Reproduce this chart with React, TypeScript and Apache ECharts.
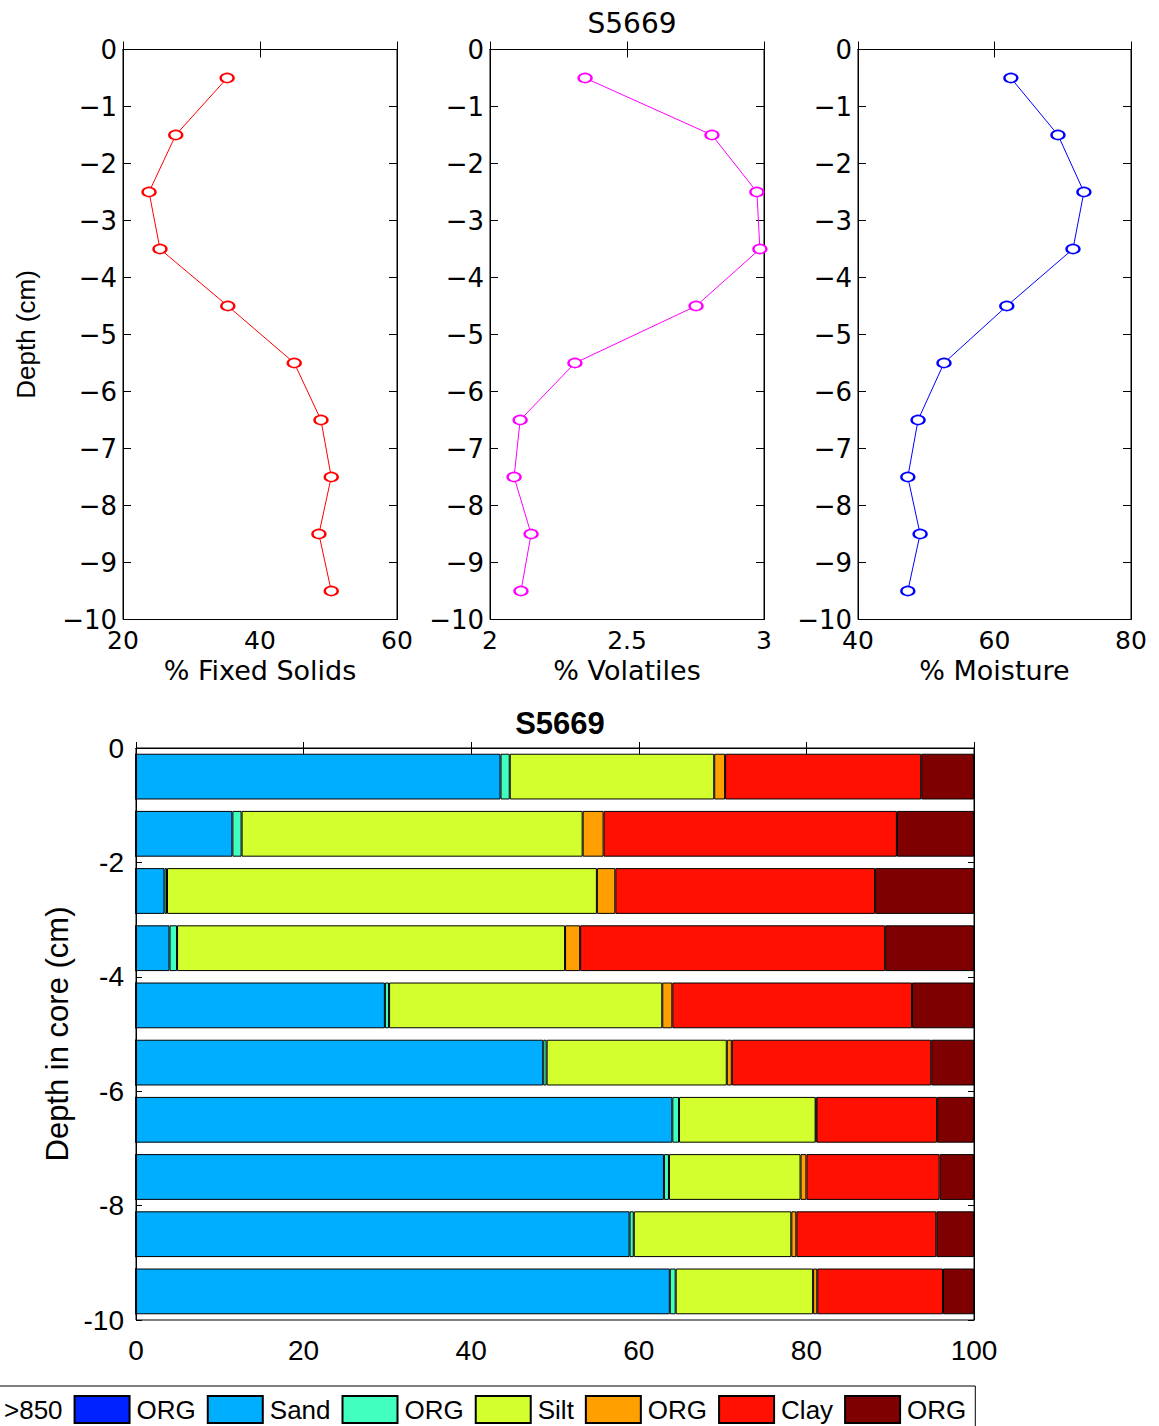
import React, { useEffect, useRef } from "react";
import * as echarts from "echarts";

const depthCats = ["-0.5", "-1.5", "-2.5", "-3.5", "-4.5", "-5.5", "-6.5", "-7.5", "-8.5", "-9.5"];
const depths = [-0.5, -1.5, -2.5, -3.5, -4.5, -5.5, -6.5, -7.5, -8.5, -9.5];
const fixedSolids = [35.2, 27.7, 23.8, 25.4, 35.3, 45.0, 48.9, 50.4, 48.6, 50.4];
const volatiles = [2.347, 2.81, 2.974, 2.985, 2.752, 2.31, 2.11, 2.088, 2.15, 2.113];
const moisture = [62.4, 69.3, 73.1, 71.5, 61.8, 52.6, 48.8, 47.3, 49.1, 47.3];

const gt850 = [0, 0, 0, 0, 0, 0, 0, 0, 0, 0];
const org1 = [0, 0, 0, 0, 0, 0, 0, 0, 0, 0];
const sand = [43.5, 11.5, 3.4, 4.0, 29.7, 48.6, 64.0, 63.0, 58.9, 63.7];
const org2 = [1.1, 1.1, 0.3, 0.9, 0.5, 0.4, 0.8, 0.6, 0.5, 0.7];
const silt = [24.4, 40.7, 51.3, 46.3, 32.6, 21.5, 16.3, 15.7, 18.8, 16.4];
const org3 = [1.3, 2.5, 2.2, 1.8, 1.2, 0.6, 0.1, 0.7, 0.6, 0.5];
const clay = [23.4, 35.0, 31.0, 36.4, 28.6, 23.8, 14.4, 15.9, 16.7, 15.0];
const org4 = [6.3, 9.2, 11.8, 10.6, 7.4, 5.1, 4.4, 4.1, 4.5, 3.7];

const barNames = [">850", "ORG#1", "Sand", "ORG#2", "Silt", "ORG#3", "Clay", "ORG#4"];
const barData = [gt850, org1, sand, org2, silt, org3, clay, org4];
const barColors = ["#00008f", "#0022ff", "#00aeff", "#40ffbf", "#d2ff2d", "#ffa000", "#ff1000", "#7f0000"];

const topFont = "DejaVu Sans";
const botFont = "Liberation Sans";

const minus = (v: number) => String(v).replace("-", "\u2212");

export default function App() {
  const ref = useRef<HTMLDivElement>(null);
  useEffect(() => {
    const chart = echarts.init(ref.current!, null, { renderer: "svg" });
    const tickTop = { inside: true, length: 8, lineStyle: { color: "#000", width: 1 } };
    const lineBlack = { show: true, lineStyle: { color: "#000", width: 1 } };
    const topGrids = [
      { left: 123, top: 49.5, width: 274, height: 570 },
      { left: 490, top: 49.5, width: 274, height: 570 },
      { left: 858, top: 49.5, width: 273, height: 570 },
    ];
    const ranges = [
      { min: 20, max: 60, interval: 20, name: "% Fixed Solids" },
      { min: 2, max: 3, interval: 0.5, name: "% Volatiles" },
      { min: 40, max: 80, interval: 20, name: "% Moisture" },
    ];
    const xAxes: any[] = [];
    const yAxes: any[] = [];
    ranges.forEach((r, i) => {
      xAxes.push({
        type: "value", gridIndex: i, position: "bottom", min: r.min, max: r.max, interval: r.interval,
        name: r.name, nameLocation: "middle", nameGap: 37,
        nameTextStyle: { fontFamily: topFont, fontSize: 27, color: "#000" },
        axisLine: lineBlack, axisTick: tickTop, splitLine: { show: false },
        axisLabel: { fontFamily: topFont, fontSize: 25, color: "#000", margin: 8 },
      });
      xAxes.push({
        type: "value", gridIndex: i, position: "top", min: r.min, max: r.max, interval: r.interval,
        axisLine: lineBlack, axisTick: tickTop, splitLine: { show: false }, axisLabel: { show: false },
      });
      yAxes.push({
        type: "value", gridIndex: i, position: "left", min: -10, max: 0, interval: 1,
        name: i === 0 ? "Depth (cm)" : "", nameLocation: "middle", nameGap: 84,
        nameTextStyle: { fontFamily: botFont, fontSize: 26, color: "#000" },
        axisLine: lineBlack, axisTick: tickTop, splitLine: { show: false },
        axisLabel: { fontFamily: topFont, fontSize: 26, color: "#000", margin: 6, formatter: (v: number) => minus(v) },
      });
      yAxes.push({
        type: "value", gridIndex: i, position: "right", min: -10, max: 0, interval: 1,
        axisLine: lineBlack, axisTick: tickTop, splitLine: { show: false }, axisLabel: { show: false },
      });
    });
    // bottom chart axes
    xAxes.push({
      type: "value", gridIndex: 3, position: "bottom", min: 0, max: 100, interval: 20,
      axisLine: lineBlack, axisTick: { inside: true, length: 6, lineStyle: { color: "#000" } }, splitLine: { show: false },
      axisLabel: { fontFamily: botFont, fontSize: 28, color: "#000", margin: 16 },
    });
    xAxes.push({
      type: "value", gridIndex: 3, position: "top", min: 0, max: 100, interval: 20,
      axisLine: lineBlack, axisTick: { inside: true, length: 6, lineStyle: { color: "#000" } }, splitLine: { show: false },
      axisLabel: { show: false },
    });
    yAxes.push({
      type: "category", gridIndex: 3, position: "left", data: depthCats, inverse: true,
      axisLine: { show: false }, axisTick: { show: false }, axisLabel: { show: false }, splitLine: { show: false },
    });
    yAxes.push({
      type: "value", gridIndex: 3, position: "left", min: -10, max: 0, interval: 2,
      name: "Depth in core (cm)", nameLocation: "middle", nameGap: 62,
      nameTextStyle: { fontFamily: botFont, fontSize: 31, color: "#000" },
      axisLine: lineBlack, axisTick: { inside: true, length: 6, lineStyle: { color: "#000" } }, splitLine: { show: false },
      axisLabel: { fontFamily: botFont, fontSize: 28, color: "#000", margin: 12 },
    });
    yAxes.push({
      type: "value", gridIndex: 3, position: "right", min: -10, max: 0, interval: 2,
      axisLine: lineBlack, axisTick: { inside: true, length: 6, lineStyle: { color: "#000" } }, splitLine: { show: false },
      axisLabel: { show: false },
    });

    const lineColors = ["#ff0000", "#ff00ff", "#0000ff"];
    const lineVals = [fixedSolids, volatiles, moisture];
    const lineSeries = lineVals.map((vals, i) => ({
      type: "line", name: "line" + i, xAxisIndex: i * 2, yAxisIndex: i * 2,
      data: vals.map((v, k) => [v, depths[k]]),
      symbol: "emptyCircle", symbolSize: [13, 9], showSymbol: true,
      lineStyle: { color: lineColors[i], width: 1 },
      itemStyle: { color: lineColors[i], borderWidth: 1 },
    }));
    const barSeries = barNames.map((n, i) => ({
      type: "bar", name: n, stack: "total", xAxisIndex: 6, yAxisIndex: 6,
      barCategoryGap: "20%",
      data: barData[i],
      itemStyle: { color: barColors[i], borderColor: "#000", borderWidth: 1 },
    }));

    chart.setOption({
      animation: false,
      backgroundColor: "#fff",
      title: [
        { text: "S5669", left: 627, top: 4, textAlign: "center",
          textStyle: { fontFamily: topFont, fontSize: 28, fontWeight: "normal", color: "#000" } },
        { text: "S5669", left: 555, top: 703, textAlign: "center",
          textStyle: { fontFamily: botFont, fontSize: 31, fontWeight: "bold", color: "#000" } },
      ],
      grid: [...topGrids, { left: 136, top: 748, width: 838, height: 572 }].map((g) => ({
        ...g, show: true, borderColor: "#000", borderWidth: 1, backgroundColor: "transparent",
      })),
      xAxis: xAxes,
      yAxis: yAxes,
      legend: {
        data: barNames, left: -67, top: 1386, orient: "horizontal",
        padding: [9, 9, 9, 8], itemWidth: 55, itemHeight: 27, itemGap: 11,
        borderColor: "#000", borderWidth: 1, icon: "rect",
        formatter: (name: string) => name.split("#")[0],
        textStyle: { fontFamily: botFont, fontSize: 26, color: "#000", padding: [0, 0, 0, 2] },
      },
      series: [...lineSeries, ...barSeries],
    });
    return () => chart.dispose();
  }, []);
  return <div ref={ref} style={{ position: "absolute", left: 0, top: 0, width: 1159, height: 1426 }} />;
}
